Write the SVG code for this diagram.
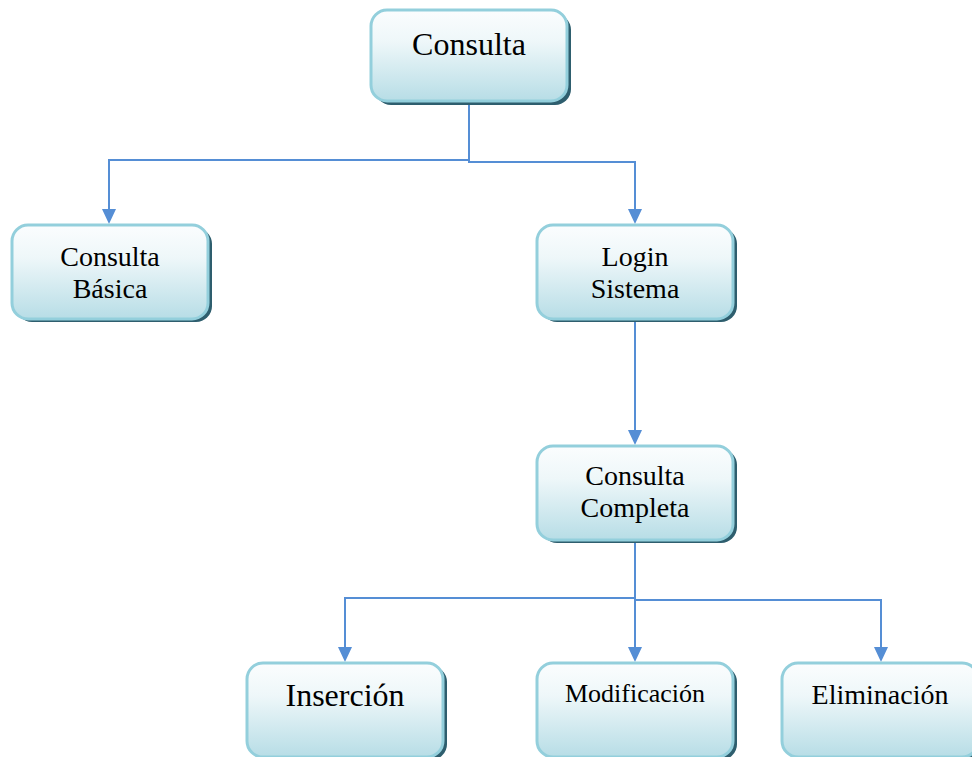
<svg xmlns="http://www.w3.org/2000/svg" width="972" height="757" viewBox="0 0 972 757">
<defs>
<linearGradient id="g" x1="0" y1="0" x2="0" y2="1">
<stop offset="0" stop-color="#fbfdfe"/>
<stop offset="0.35" stop-color="#eef7f9"/>
<stop offset="1" stop-color="#b7dde6"/>
</linearGradient>
<style>
.sh{fill:#2e5e6e}
.bx{fill:url(#g);stroke:#93cfdc;stroke-width:3}
.t{font-family:"Liberation Serif","Times New Roman",serif;fill:#000;text-anchor:middle}
.c{fill:none;stroke:#558ed5;stroke-width:2}
.ah{fill:#558ed5}
</style>
</defs>
<g id="connectors">
<path class="c" d="M469,102 V160 H109 V212"/>
<path class="c" d="M469,160 V162 H635 V212"/>
<path class="c" d="M635,318 V432"/>
<path class="c" d="M635,540 V598 H345 V650"/>
<path class="c" d="M635,598 V650"/>
<path class="c" d="M635,598 V600 H881 V650"/>
<polygon class="ah" points="102,209 116,209 109,224"/>
<polygon class="ah" points="628,209 642,209 635,224"/>
<polygon class="ah" points="628,430 642,430 635,445"/>
<polygon class="ah" points="338,647 352,647 345,662"/>
<polygon class="ah" points="628,647 642,647 635,662"/>
<polygon class="ah" points="874,647 888,647 881,662"/>
</g>
<g id="n-consulta">
<rect class="sh" x="375" y="14" width="196" height="91" rx="16"/>
<rect class="bx" x="371" y="10" width="196" height="91" rx="16"/>
<text class="t" x="469" y="55" font-size="32">Consulta</text>
</g>
<g id="n-basica">
<rect class="sh" x="16" y="228" width="196" height="94" rx="16"/>
<rect class="bx" x="12" y="225" width="196" height="94" rx="16"/>
<text class="t" x="110" y="266" font-size="28">Consulta</text>
<text class="t" x="110" y="298" font-size="28">Básica</text>
</g>
<g id="n-login">
<rect class="sh" x="541" y="228" width="196" height="94" rx="16"/>
<rect class="bx" x="537" y="225" width="196" height="94" rx="16"/>
<text class="t" x="635" y="266" font-size="28">Login</text>
<text class="t" x="635" y="298" font-size="28">Sistema</text>
</g>
<g id="n-completa">
<rect class="sh" x="541" y="449" width="196" height="94" rx="16"/>
<rect class="bx" x="537" y="446" width="196" height="94" rx="16"/>
<text class="t" x="635" y="485" font-size="28">Consulta</text>
<text class="t" x="635" y="517" font-size="28">Completa</text>
</g>
<g id="n-insercion">
<rect class="sh" x="251" y="666" width="196" height="94" rx="16"/>
<rect class="bx" x="247" y="663" width="196" height="94" rx="16"/>
<text class="t" x="345" y="706" font-size="32">Inserción</text>
</g>
<g id="n-modificacion">
<rect class="sh" x="541" y="666" width="196" height="94" rx="16"/>
<rect class="bx" x="537" y="663" width="196" height="94" rx="16"/>
<text class="t" x="635" y="702" font-size="26">Modificación</text>
</g>
<g id="n-eliminacion">
<rect class="sh" x="786" y="666" width="196" height="94" rx="16"/>
<rect class="bx" x="782" y="663" width="196" height="94" rx="16"/>
<text class="t" x="880" y="704" font-size="28">Eliminación</text>
</g>
</svg>
